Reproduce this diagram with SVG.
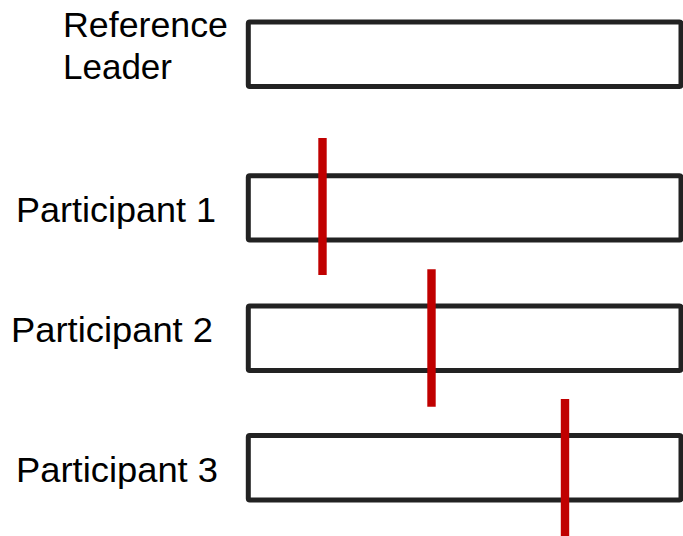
<svg xmlns="http://www.w3.org/2000/svg" width="683" height="536" viewBox="0 0 683 536">
<style>
.bar{fill:#ffffff;stroke:#222222;stroke-width:5;stroke-linejoin:round}
.lbl{font-family:"Liberation Sans",Arial,sans-serif;font-size:34.5px;fill:#000000}
.mark{stroke:#c00000;stroke-width:8.4;fill:none}
</style>
<rect width="683" height="536" fill="#ffffff"/>
<g id="leader">
<rect class="bar" x="248.3" y="22" width="432.7" height="64.5" rx="1.5"/>
<text class="lbl" x="63" y="36.7" textLength="165" lengthAdjust="spacingAndGlyphs">Reference</text>
<text class="lbl" x="63" y="79" textLength="109" lengthAdjust="spacingAndGlyphs">Leader</text>
</g>
<g id="participant1">
<rect class="bar" x="248.3" y="175.8" width="432.7" height="64.3" rx="1.5"/>
<text class="lbl" x="16" y="221.5" textLength="200" lengthAdjust="spacingAndGlyphs">Participant 1</text>
</g>
<g id="participant2">
<rect class="bar" x="248.3" y="306" width="432.7" height="64.5" rx="1.5"/>
<text class="lbl" x="11" y="342" textLength="202" lengthAdjust="spacingAndGlyphs">Participant 2</text>
</g>
<g id="participant3">
<rect class="bar" x="248.3" y="435.5" width="432.7" height="64.5" rx="1.5"/>
<text class="lbl" x="16" y="481.5" textLength="202" lengthAdjust="spacingAndGlyphs">Participant 3</text>
</g>
<g id="connectors">
<line class="mark" x1="322.5" y1="138" x2="322.5" y2="275"/>
<line class="mark" x1="431.5" y1="269.3" x2="431.5" y2="406.7"/>
<line class="mark" x1="565" y1="399" x2="565" y2="536"/>
</g>
</svg>
